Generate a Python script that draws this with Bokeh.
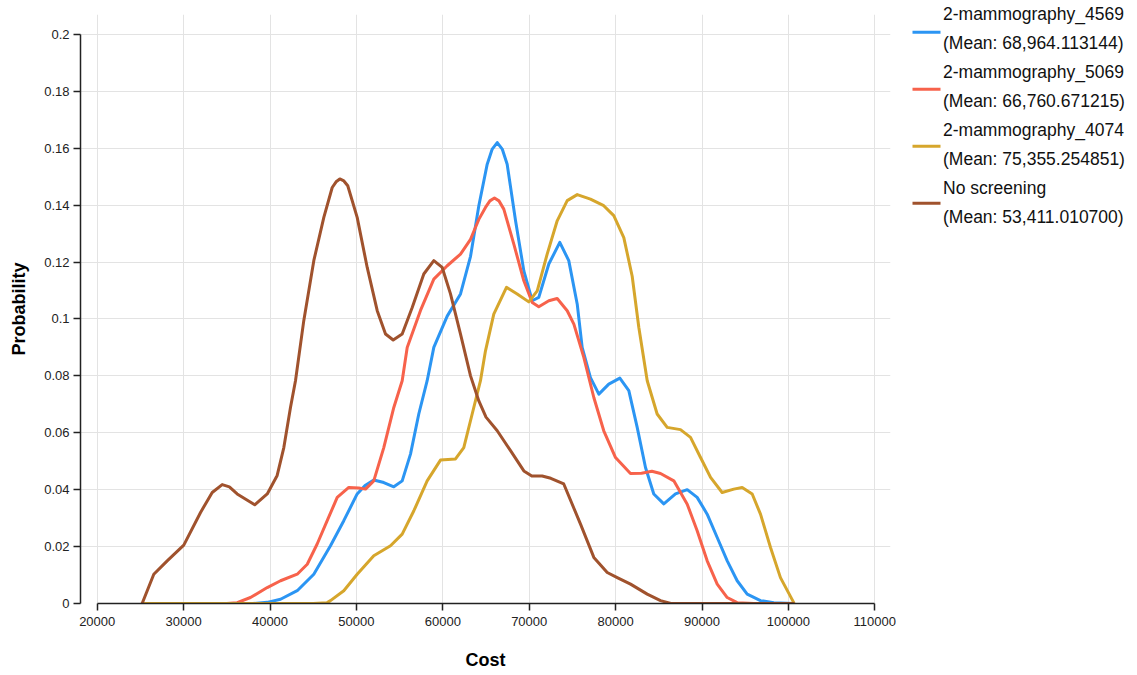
from bokeh.plotting import figure
from bokeh.layouts import row
from bokeh.models import (Range1d, FixedTicker, CustomJSTickFormatter, BasicTickFormatter,
                          Legend, LegendItem, ColumnDataSource)
from bokeh.embed import file_html
from bokeh.resources import INLINE

# ---------------- data ----------------
series_names = ["2-mammography_4569", "2-mammography_5069", "2-mammography_4074", "No screening"]
series_means = ["68,964.113144", "66,760.671215", "75,355.254851", "53,411.010700"]
series_colors = ["#2b95f3", "#f7624b", "#d6a62c", "#a0522d"]

x_4569 = [25200, 38000, 39680, 41220, 43150, 45070, 47000, 48540, 50090, 51000, 52010, 53170,
          54330, 55300, 56260, 57220, 58190, 58960, 60510, 62050, 63210, 64170, 65140, 65720, 66300,
          66880, 67450, 68420, 69380, 70350, 71110, 72270, 73540, 74580, 75560, 76130, 77090, 78060,
          79210, 80490, 81530, 82500, 83460, 84420, 85580, 86930, 88290, 89440, 90600, 91760,
          92920, 94070, 95230, 96770, 98310, 100600]
y_4569 = [0, 0, 0.0004, 0.0015, 0.0045, 0.0103, 0.0203, 0.0291, 0.0385, 0.0415, 0.0434, 0.0425,
          0.0410, 0.0431, 0.0525, 0.0666, 0.0783, 0.0900, 0.1010, 0.1088, 0.1220, 0.1398, 0.1544, 0.1597, 0.1620,
          0.1597, 0.1544, 0.1345, 0.1169, 0.1064, 0.1076, 0.1193, 0.1269, 0.1205, 0.1052, 0.0900, 0.0794, 0.0736,
          0.0771, 0.0792, 0.0748, 0.0619, 0.0478, 0.0385, 0.0350, 0.0385, 0.0400, 0.0373, 0.0314, 0.0232,
          0.0150, 0.0080, 0.0033, 0.0010, 0.0003, 0]

x_5069 = [25200, 35000, 36200, 37740, 39680, 41220, 43150, 44310, 45460, 46620, 47780, 49120,
          50280, 51050, 52010, 53170, 54330, 55300, 55880, 57420, 58960, 60510, 62050, 63210,
          64170, 64940, 65450, 65980, 66500, 67060, 68220, 69380, 70350, 71110, 72270, 73240, 74400, 75170,
          76320, 77480, 78630, 79990, 81720, 83000, 84200, 85200, 86740, 88290, 89440, 90600,
          91760, 92920, 94070, 96000, 100600]
y_5069 = [0, 0, 0.0003, 0.0021, 0.0056, 0.0080, 0.0103, 0.0138, 0.0209, 0.0291, 0.0373, 0.0408,
          0.0406, 0.0402, 0.0431, 0.0548, 0.0689, 0.0783, 0.0900, 0.1030, 0.1140, 0.1187, 0.1228, 0.1280,
          0.1350, 0.1392, 0.1415, 0.1425, 0.1415, 0.1386, 0.1263, 0.1134, 0.1058, 0.1043, 0.1064, 0.1072, 0.1029, 0.0982,
          0.0865, 0.0724, 0.0607, 0.0513, 0.0457, 0.0458, 0.0465, 0.0457, 0.0431, 0.0349, 0.0256, 0.0150,
          0.0068, 0.0021, 0.0003, 0, 0]

x_4074 = [25200, 45000, 46620, 47000, 48540, 50090, 52010, 53950, 55300, 56650, 58190, 59730,
          61470, 62430, 63400, 64360, 64940, 65900, 67370, 68610, 69950, 70930, 72080, 73240,
          74400, 75560, 77090, 78630, 79790, 80950, 81920, 82690, 83660, 84810, 85970, 87510,
          88670, 89830, 90990, 92330, 93680, 94650, 95810, 96770, 97930, 99080, 100620]
y_4074 = [0, 0, 0.0003, 0.0010, 0.0045, 0.0103, 0.0168, 0.0203, 0.0244, 0.0326, 0.0431, 0.0504,
          0.0508, 0.0548, 0.0666, 0.0783, 0.0888, 0.1017, 0.1111, 0.1088, 0.1060, 0.1099, 0.1228, 0.1345,
          0.1416, 0.1437, 0.1421, 0.1398, 0.1363, 0.1286, 0.1150, 0.0970, 0.0783, 0.0666, 0.0619, 0.0611,
          0.0584, 0.0513, 0.0443, 0.0390, 0.0402, 0.0408, 0.0385, 0.0314, 0.0197, 0.0091, 0.0003]

x_none = [25200, 26550, 28100, 30020, 31960, 33310, 34470, 35300, 36200, 38230, 39680, 40830, 41600,
          42370, 42950, 43910, 45070, 46230, 47200, 47650, 48080, 48550, 49000, 50090, 51250, 52410, 53370,
          54260, 55300, 56460, 57800, 58960, 59930, 60890, 62050, 63210, 64170, 65000, 66300,
          67840, 69380, 70300, 71500, 72500, 74000, 75940, 77480, 79030, 80190, 81730, 83660,
          85200, 86400, 90000, 95000, 100600]
y_none = [0, 0.0103, 0.0150, 0.0205, 0.0320, 0.0390, 0.0418, 0.0410, 0.0385, 0.0347, 0.0385, 0.0450, 0.0548,
          0.0689, 0.0783, 0.0994, 0.1205, 0.1357, 0.1462, 0.1482, 0.1492, 0.1485, 0.1468, 0.1357, 0.1181, 0.1029, 0.0947,
          0.0926, 0.0947, 0.1040, 0.1158, 0.1205, 0.1181, 0.1088, 0.0947, 0.0800, 0.0712, 0.0655, 0.0607,
          0.0537, 0.0466, 0.0448, 0.0448, 0.0440, 0.0420, 0.0279, 0.0162, 0.0109, 0.0091, 0.0068, 0.0033,
          0.0010, 0, 0, 0, 0]

x_ticks = [20000, 30000, 40000, 50000, 60000, 70000, 80000, 90000, 100000, 110000]
y_ticks = [0, 0.02, 0.04, 0.06, 0.08, 0.1, 0.12, 0.14, 0.16, 0.18, 0.2]

series_x = [x_4569, x_5069, x_4074, x_none]
series_y = [y_4569, y_5069, y_4074, y_none]

# ---------------- main figure ----------------
FONT = "Liberation Sans"
H = 672
W_MAIN = 896
W_LEG = 1137 - W_MAIN

p = figure(width=W_MAIN, height=H,
           x_range=Range1d(18067, 111817), y_range=Range1d(0, 0.207),
           output_backend="svg", toolbar_location=None,
           min_border_left=80, min_border_right=6, min_border_top=14, min_border_bottom=69)
p.outline_line_color = None
p.background_fill_color = "white"
p.border_fill_color = "white"

p.xgrid.ticker = FixedTicker(ticks=x_ticks)
p.ygrid.ticker = FixedTicker(ticks=y_ticks)
for g in (p.xgrid, p.ygrid):
    g.grid_line_color = "#e3e3e3"
    g.grid_line_width = 1

p.xaxis.ticker = FixedTicker(ticks=x_ticks)
p.yaxis.ticker = FixedTicker(ticks=y_ticks)
p.xaxis.formatter = BasicTickFormatter(use_scientific=False)
p.yaxis.formatter = CustomJSTickFormatter(code="return tick.toFixed(2).replace(/\\.?0+$/, '');")
p.xaxis.bounds = (20000, 110000)
p.yaxis.bounds = (0, 0.2)
for ax in (p.xaxis, p.yaxis):
    ax.axis_line_color = "#222222"
    ax.axis_line_width = 1.5
    ax.major_tick_line_color = "#222222"
    ax.major_tick_line_width = 1.5
    ax.major_tick_out = 7
    ax.major_tick_in = 0
    ax.minor_tick_line_color = None
    ax.major_label_text_font = FONT
    ax.major_label_text_font_size = "13px"
    ax.major_label_text_color = "#222222"
    ax.axis_label_text_font = FONT
    ax.axis_label_text_font_size = "18px"
    ax.axis_label_text_font_style = "bold"
    ax.axis_label_text_color = "#000000"
p.xaxis.major_label_standoff = 6
p.yaxis.major_label_standoff = 4
p.xaxis.axis_label = "Cost"
p.yaxis.axis_label = "Probability"
p.xaxis.axis_label_standoff = 21
p.yaxis.axis_label_standoff = 12

for col, xs, ys in zip(series_colors, series_x, series_y):
    p.line(xs, ys, line_color=col, line_width=3, line_join="round", line_cap="round")

# ---------------- legend panel (separate figure to the right, pixel-scaled ranges) ----------------
lg = figure(width=W_LEG, height=H, x_range=Range1d(0, W_LEG), y_range=Range1d(0, H),
            x_axis_type=None, y_axis_type=None, output_backend="svg", toolbar_location=None,
            min_border=0)
lg.outline_line_color = None
lg.grid.visible = False
if hasattr(p, "frame_align"):
    p.frame_align = False
    lg.frame_align = False

# colour swatches, one per series, centred between the two label lines
n = len(series_names)
PITCH = 57
sw = ColumnDataSource(dict(
    x0=[16] * n, x1=[44] * n,
    y=[H - (31.7 + PITCH * i) for i in range(n)],
    color=series_colors))
lg.segment(x0="x0", x1="x1", y0="y", y1="y", line_color="color", line_width=3, source=sw)

name_items, mean_items = [], []
for name, mean, col in zip(series_names, series_means, series_colors):
    r_blank = lg.line([], [], line_color=col, line_alpha=0)
    name_items.append(LegendItem(label=name, renderers=[r_blank]))
    mean_items.append(LegendItem(label=f"(Mean: {mean})", renderers=[r_blank]))


def make_legend(items, top_of_first):
    k = len(items)
    height = k * 20 + (k - 1) * (PITCH - 20)
    leg = Legend(items=items, location=(16, H - (top_of_first + height)))
    leg.border_line_color = None
    leg.background_fill_alpha = 0
    leg.padding = 0
    leg.margin = 0
    leg.spacing = PITCH - 20
    leg.label_standoff = 3
    leg.glyph_width = 28
    leg.glyph_height = 20
    leg.label_height = 20
    leg.label_text_font = FONT
    leg.label_text_font_size = "17.5px"
    leg.label_text_color = "#111111"
    return leg


lg.add_layout(make_legend(name_items, 8.3))
lg.add_layout(make_legend(mean_items, 36.7))

layout = row(p, lg)
open("out.html", "w").write(file_html(layout, INLINE))
